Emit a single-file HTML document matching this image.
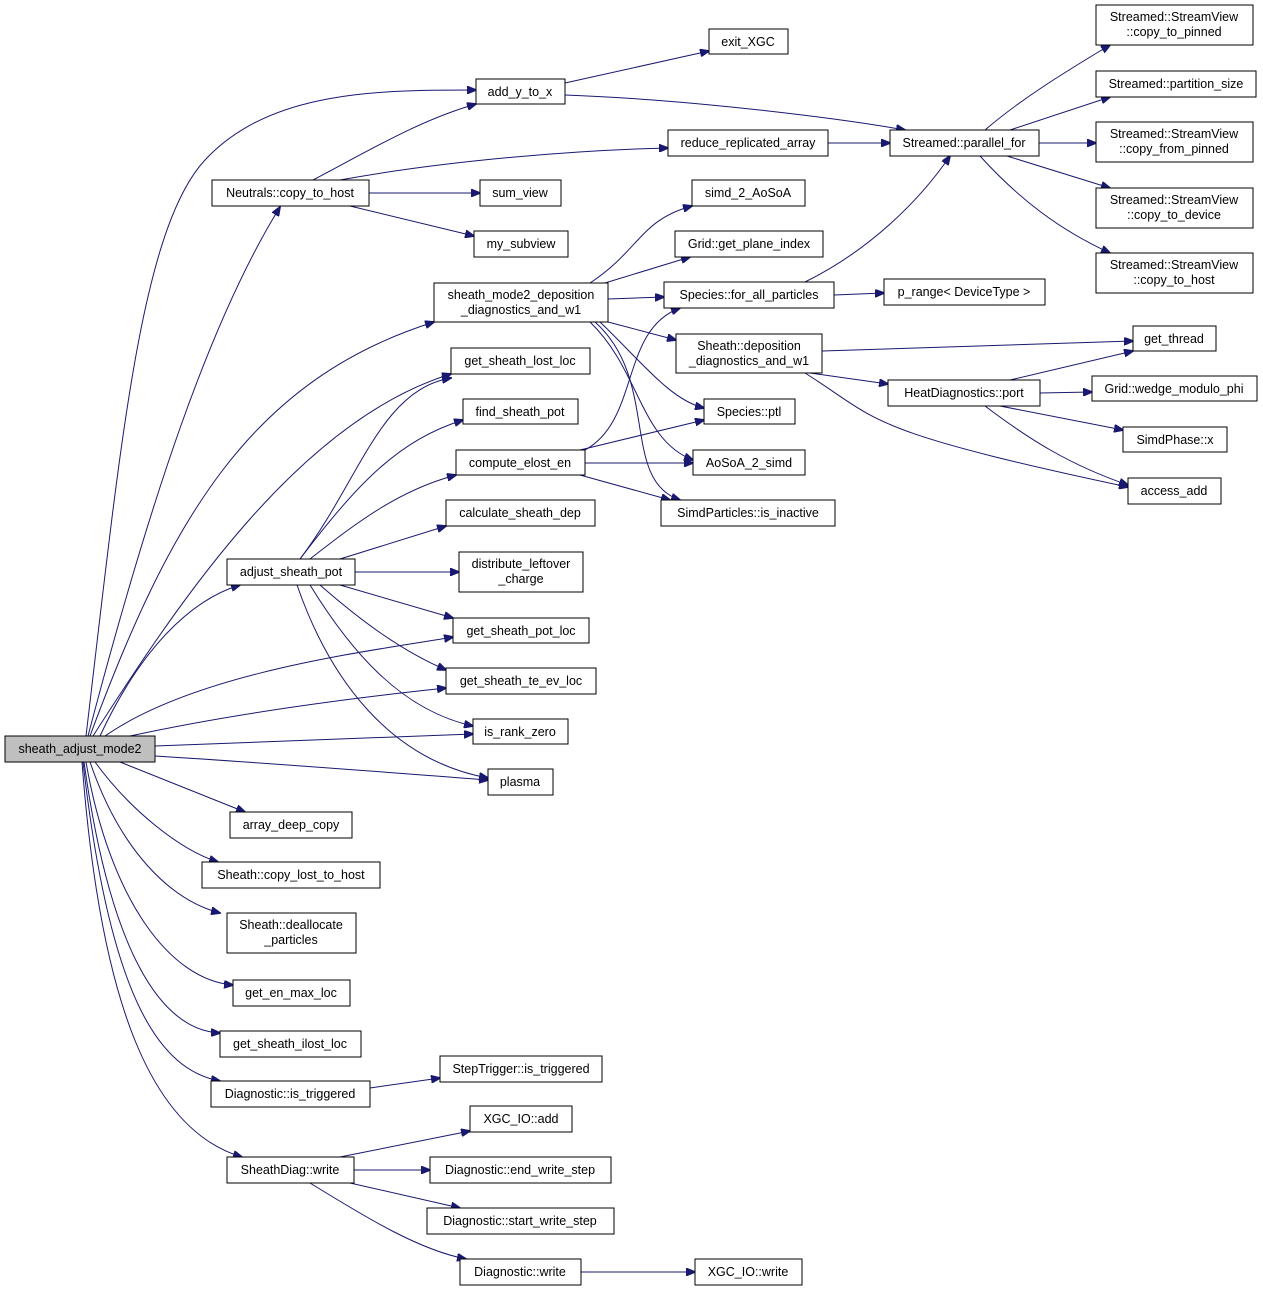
<!DOCTYPE html>
<html><head><meta charset="utf-8"><style>
html,body{margin:0;padding:0;background:#fff;}
svg{display:block;}
text{font-family:"Liberation Sans",Arial,sans-serif;font-size:12.5px;fill:#000;text-anchor:middle;}
rect{fill:#fff;stroke:#000;stroke-width:1;}
path{fill:none;stroke:#191970;stroke-width:1;}
</style></head><body>
<svg width="1263" height="1291" viewBox="0 0 1263 1291" xmlns="http://www.w3.org/2000/svg">
<defs><marker id="a" markerWidth="10" markerHeight="8" refX="9" refY="4" orient="auto" markerUnits="userSpaceOnUse"><path d="M0,0 L10,4 L0,8 Z" style="fill:#191970;stroke:#191970"/></marker></defs>
<g marker-end="url(#a)">
<path d="M86,736 C120,450 140,230 205,160 S380,90 476,90"/>
<path d="M88,736 C150,500 210,320 280,207"/>
<path d="M90,736 C170,520 250,380 434,322"/>
<path d="M93,736 C180,600 300,420 451,374"/>
<path d="M100,736 C140,650 190,600 240,585"/>
<path d="M105,736 C200,670 380,650 453,637"/>
<path d="M130,736 C250,710 380,695 446,688"/>
<path d="M155,746 L473,734"/>
<path d="M155,756 C300,765 420,775 488,780"/>
<path d="M120,762 L245,812"/>
<path d="M95,762 C130,810 180,850 218,862"/>
<path d="M90,762 C120,850 170,900 220,913"/>
<path d="M86,762 C110,900 170,980 233,985"/>
<path d="M84,762 C110,950 160,1030 220,1033"/>
<path d="M83,762 C110,1000 160,1070 220,1081"/>
<path d="M82,762 C100,1000 150,1130 242,1157"/>
<path d="M565,83 L709,51"/>
<path d="M565,95 C700,100 850,120 905,130"/>
<path d="M313,180 C370,150 420,120 476,104"/>
<path d="M340,180 C450,160 580,150 668,148"/>
<path d="M369,193 L480,193"/>
<path d="M350,206 L474,236"/>
<path d="M828,143 L890,143"/>
<path d="M985,130 C1020,100 1060,75 1110,45"/>
<path d="M1010,130 L1110,97"/>
<path d="M1039,143 L1096,143"/>
<path d="M1007,156 L1110,188"/>
<path d="M980,156 C1020,200 1060,230 1110,253"/>
<path d="M590,283 C640,250 640,220 692,206"/>
<path d="M605,283 L690,257"/>
<path d="M608,299 L664,297"/>
<path d="M608,322 L676,340"/>
<path d="M600,322 C640,360 670,400 704,408"/>
<path d="M590,322 C640,370 640,440 693,460"/>
<path d="M595,322 C660,380 620,480 680,500"/>
<path d="M805,282 C870,250 920,200 950,156"/>
<path d="M834,295 L884,293"/>
<path d="M822,351 L1133,341"/>
<path d="M810,373 L888,384"/>
<path d="M805,373 C880,420 860,430 1128,487"/>
<path d="M1010,380 L1133,351"/>
<path d="M1040,393 L1092,392"/>
<path d="M1000,406 L1123,430"/>
<path d="M985,406 C1030,440 1070,465 1128,485"/>
<path d="M300,559 C360,480 380,390 451,378"/>
<path d="M300,559 C360,480 400,440 463,420"/>
<path d="M310,559 C360,520 400,490 456,475"/>
<path d="M340,559 L446,526"/>
<path d="M355,572 L459,572"/>
<path d="M340,585 L453,618"/>
<path d="M320,585 C360,620 400,650 446,670"/>
<path d="M310,585 C350,650 400,710 473,726"/>
<path d="M297,585 C330,680 390,760 488,778"/>
<path d="M585,450 C640,420 620,330 680,308"/>
<path d="M580,450 L704,420"/>
<path d="M585,463 L693,463"/>
<path d="M580,475 L670,500"/>
<path d="M370,1088 L440,1078"/>
<path d="M340,1157 L470,1131"/>
<path d="M354,1170 L430,1170"/>
<path d="M350,1183 L460,1208"/>
<path d="M310,1183 C370,1220 420,1250 466,1259"/>
<path d="M581,1272 L695,1272"/>
</g>
<rect x="5" y="736" width="150" height="26" style="fill:#bfbfbf"/><text x="80" y="753">sheath_adjust_mode2</text>
<rect x="709" y="29" width="79" height="25"/><text x="748" y="46">exit_XGC</text>
<rect x="476" y="79" width="89" height="25"/><text x="520" y="96">add_y_to_x</text>
<rect x="1096" y="5" width="157" height="40"/><text x="1174" y="21">Streamed::StreamView</text><text x="1174" y="36">::copy_to_pinned</text>
<rect x="1096" y="71" width="160" height="26"/><text x="1176" y="88">Streamed::partition_size</text>
<rect x="890" y="130" width="149" height="26"/><text x="964" y="147">Streamed::parallel_for</text>
<rect x="668" y="130" width="160" height="26"/><text x="748" y="147">reduce_replicated_array</text>
<rect x="1096" y="122" width="157" height="40"/><text x="1174" y="138">Streamed::StreamView</text><text x="1174" y="153">::copy_from_pinned</text>
<rect x="212" y="180" width="157" height="26"/><text x="290" y="197">Neutrals::copy_to_host</text>
<rect x="480" y="180" width="81" height="26"/><text x="520" y="197">sum_view</text>
<rect x="692" y="180" width="113" height="26"/><text x="748" y="197">simd_2_AoSoA</text>
<rect x="1096" y="188" width="157" height="40"/><text x="1174" y="204">Streamed::StreamView</text><text x="1174" y="219">::copy_to_device</text>
<rect x="474" y="231" width="94" height="26"/><text x="521" y="248">my_subview</text>
<rect x="675" y="231" width="148" height="26"/><text x="749" y="248">Grid::get_plane_index</text>
<rect x="1096" y="253" width="157" height="40"/><text x="1174" y="269">Streamed::StreamView</text><text x="1174" y="284">::copy_to_host</text>
<rect x="434" y="283" width="174" height="39"/><text x="521" y="299">sheath_mode2_deposition</text><text x="521" y="314">_diagnostics_and_w1</text>
<rect x="664" y="282" width="170" height="26"/><text x="749" y="299">Species::for_all_particles</text>
<rect x="884" y="279" width="161" height="26"/><text x="964" y="296">p_range&lt; DeviceType &gt;</text>
<rect x="676" y="334" width="146" height="39"/><text x="749" y="350">Sheath::deposition</text><text x="749" y="365">_diagnostics_and_w1</text>
<rect x="1133" y="326" width="83" height="25"/><text x="1174" y="343">get_thread</text>
<rect x="451" y="348" width="139" height="26"/><text x="520" y="365">get_sheath_lost_loc</text>
<rect x="888" y="380" width="152" height="26"/><text x="964" y="397">HeatDiagnostics::port</text>
<rect x="1092" y="376" width="165" height="25"/><text x="1174" y="393">Grid::wedge_modulo_phi</text>
<rect x="463" y="399" width="115" height="25"/><text x="520" y="416">find_sheath_pot</text>
<rect x="704" y="399" width="91" height="25"/><text x="749" y="416">Species::ptl</text>
<rect x="1123" y="427" width="104" height="25"/><text x="1175" y="444">SimdPhase::x</text>
<rect x="456" y="450" width="129" height="25"/><text x="520" y="467">compute_elost_en</text>
<rect x="693" y="450" width="112" height="25"/><text x="749" y="467">AoSoA_2_simd</text>
<rect x="1128" y="478" width="93" height="26"/><text x="1174" y="495">access_add</text>
<rect x="446" y="500" width="149" height="26"/><text x="520" y="517">calculate_sheath_dep</text>
<rect x="661" y="500" width="174" height="26"/><text x="748" y="517">SimdParticles::is_inactive</text>
<rect x="227" y="559" width="128" height="26"/><text x="291" y="576">adjust_sheath_pot</text>
<rect x="459" y="552" width="124" height="40"/><text x="521" y="568">distribute_leftover</text><text x="521" y="583">_charge</text>
<rect x="453" y="618" width="136" height="25"/><text x="521" y="635">get_sheath_pot_loc</text>
<rect x="446" y="668" width="150" height="26"/><text x="521" y="685">get_sheath_te_ev_loc</text>
<rect x="473" y="719" width="95" height="25"/><text x="520" y="736">is_rank_zero</text>
<rect x="488" y="769" width="65" height="26"/><text x="520" y="786">plasma</text>
<rect x="230" y="812" width="122" height="26"/><text x="291" y="829">array_deep_copy</text>
<rect x="202" y="862" width="178" height="26"/><text x="291" y="879">Sheath::copy_lost_to_host</text>
<rect x="227" y="913" width="129" height="40"/><text x="291" y="929">Sheath::deallocate</text><text x="291" y="944">_particles</text>
<rect x="233" y="980" width="117" height="26"/><text x="291" y="997">get_en_max_loc</text>
<rect x="220" y="1031" width="141" height="26"/><text x="290" y="1048">get_sheath_ilost_loc</text>
<rect x="440" y="1056" width="162" height="26"/><text x="521" y="1073">StepTrigger::is_triggered</text>
<rect x="211" y="1081" width="159" height="26"/><text x="290" y="1098">Diagnostic::is_triggered</text>
<rect x="470" y="1106" width="102" height="26"/><text x="521" y="1123">XGC_IO::add</text>
<rect x="227" y="1157" width="127" height="26"/><text x="290" y="1174">SheathDiag::write</text>
<rect x="430" y="1157" width="181" height="26"/><text x="520" y="1174">Diagnostic::end_write_step</text>
<rect x="427" y="1208" width="187" height="26"/><text x="520" y="1225">Diagnostic::start_write_step</text>
<rect x="460" y="1259" width="121" height="26"/><text x="520" y="1276">Diagnostic::write</text>
<rect x="695" y="1259" width="107" height="26"/><text x="748" y="1276">XGC_IO::write</text>
</svg>
</body></html>
